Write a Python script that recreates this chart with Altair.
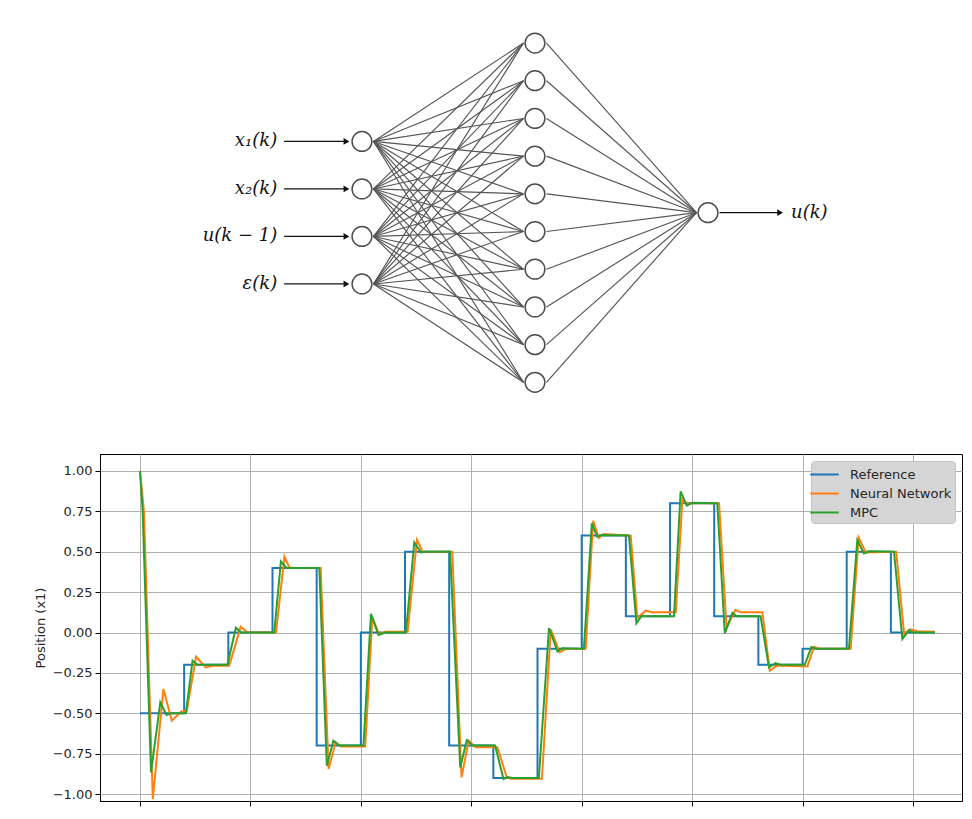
import altair as alt
import pandas as pd

# ---------------- Network diagram data ----------------
layer_x = [0, 1, 2]                      # input, hidden, output layer positions
input_y = [-1.89, -0.63, 0.63, 1.89]
hidden_y = [-4.5, -3.5, -2.5, -1.5, -0.5, 0.5, 1.5, 2.5, 3.5, 4.5]
output_y = [0.0]
input_labels = ["x\u2081(k)", "x\u2082(k)", "u(k \u2212 1)", "\u03b5(k)"]
output_label = "u(k)"
in_arrow_start = -0.45
in_label_x = -0.49
out_arrow_end = 2.44
out_label_x = 2.48

# ---------------- Line chart data ----------------
series_names = ["Reference", "Neural Network", "MPC"]
series_colors = ["#1f77b4", "#ff7f0e", "#2ca02c"]

ref_t = [0, 10, 20, 30, 40, 50, 60, 70, 80, 90, 100, 110, 120, 130, 140, 150, 160, 170, 180]
ref_v = [-0.5, -0.2, 0.0, 0.4, -0.7, 0.0, 0.5, -0.7, -0.9, -0.1, 0.6, 0.1, 0.8, 0.1, -0.2, -0.1, 0.5, 0.0, 0.0]

nn_t = [0, 0.9, 2.9, 5.3, 7.2, 9.3, 10.6, 12.7, 14.9, 16.8, 20.2, 22.8, 24.4, 30.8, 32.7, 33.8, 35.0,
        40.9, 42.7, 44.3, 45.5, 51.0, 52.6, 54.1, 55.5, 60.6, 62.7, 64.0, 70.7, 72.8, 74.4, 76.0,
        80.9, 83.0, 83.9, 91.0, 93.0, 95.0, 96.4, 100.9, 102.6, 103.9, 104.9, 111.1, 112.6, 114.5,
        116.0, 121.3, 122.8, 123.9, 125.0, 131.1, 132.8, 134.8, 136.0, 140.9, 142.6, 144.2, 151.1,
        152.6, 153.7, 160.9, 162.7, 164.3, 171.2, 173.0, 174.4, 176.0, 180.0]
nn_v = [1.0, 0.75, -1.031, -0.35, -0.546, -0.49, -0.485, -0.15, -0.216, -0.205, -0.205, 0.036, 0.0,
        0.0, 0.47, 0.403, 0.4, 0.4, -0.845, -0.68, -0.705, -0.705, 0.093, -0.01, 0.005, 0.005, 0.573,
        0.5, 0.5, -0.897, -0.67, -0.71, -0.71, -0.893, -0.905, -0.905, 0.02, -0.123, -0.102, -0.1,
        0.692, 0.585, 0.61, 0.6, 0.09, 0.135, 0.125, 0.125, 0.827, 0.796, 0.8, 0.8, 0.03, 0.141, 0.125,
        0.125, -0.237, -0.205, -0.21, -0.088, -0.1, -0.1, 0.589, 0.496, 0.5, -0.01, 0.02, 0.008, 0.005]

mpc_t = [0, 0.6, 2.5, 4.6, 6.0, 7.0, 10.4, 11.9, 13.0, 19.8, 21.7, 22.9, 30.4, 31.9, 33.2, 40.6, 42.3,
         43.8, 45.1, 50.6, 52.3, 54.0, 55.6, 60.2, 62.1, 63.6, 64.5, 70.2, 72.5, 74.0, 75.3, 80.4, 82.3,
         83.2, 84.5, 90.3, 92.6, 94.5, 95.6, 100.5, 102.3, 103.5, 104.5, 110.7, 112.4, 113.6, 114.5,
         120.9, 122.4, 123.8, 125.0, 130.7, 132.4, 134.1, 135.2, 140.5, 142.4, 143.9, 145.0, 150.5,
         152.0, 153.0, 160.5, 162.4, 163.9, 165.0, 170.7, 172.6, 174.1, 175.0, 180.0]
mpc_v = [1.0, 0.755, -0.866, -0.432, -0.51, -0.5, -0.5, -0.174, -0.2, -0.2, 0.03, 0.0, 0.0, 0.44, 0.40,
         0.40, -0.825, -0.67, -0.70, -0.70, 0.115, -0.015, 0.0, 0.0, 0.558, 0.496, 0.5, 0.5, -0.835,
         -0.666, -0.70, -0.70, -0.907, -0.895, -0.9, -0.9, 0.028, -0.117, -0.097, -0.1, 0.676, 0.593,
         0.603, 0.6, 0.057, 0.104, 0.1, 0.1, 0.874, 0.785, 0.803, 0.8, -0.005, 0.12, 0.1, 0.1, -0.216,
         -0.19, -0.2, -0.2, -0.09, -0.1, -0.1, 0.573, 0.49, 0.503, 0.5, -0.04, 0.015, 0.0, 0.0]

y_ticks = [-1.0, -0.75, -0.5, -0.25, 0.0, 0.25, 0.5, 0.75, 1.0]
x_ticks = [0, 25, 50, 75, 100, 125, 150, 175]

# ---------------- Diagram ----------------
NODE_R = 11.5
dx = alt.Scale(domain=[-1.514, 3.468], nice=False, zero=False)
dy = alt.Scale(domain=[-5.403, 5.207], reverse=True, nice=False, zero=False)

edge_rows = [{"x": layer_x[0], "y": a, "x2": layer_x[1], "y2": b} for a in input_y for b in hidden_y]
edge_rows += [{"x": layer_x[1], "y": b, "x2": layer_x[2], "y2": o} for b in hidden_y for o in output_y]
edges_df = pd.DataFrame(edge_rows)

node_rows = [{"x": layer_x[0], "y": v} for v in input_y]
node_rows += [{"x": layer_x[1], "y": v} for v in hidden_y]
node_rows += [{"x": layer_x[2], "y": v} for v in output_y]
nodes_df = pd.DataFrame(node_rows)

in_df = pd.DataFrame({"xs": [in_arrow_start] * len(input_y), "xe": [layer_x[0]] * len(input_y),
                      "xl": [in_label_x] * len(input_y), "y": input_y, "label": input_labels})
out_df = pd.DataFrame({"xs": [layer_x[2]], "xe": [out_arrow_end], "xl": [out_label_x],
                       "y": output_y, "label": [output_label]})

X = lambda f: alt.X(f, type="quantitative", scale=dx, axis=None)
Y = lambda f: alt.Y(f, type="quantitative", scale=dy, axis=None)

edges = alt.Chart(edges_df).mark_rule(color="#555555", strokeWidth=1.15, xOffset=NODE_R, x2Offset=-NODE_R).encode(
    x=X("x"), y=Y("y"), x2="x2:Q", y2="y2:Q")
nodes = alt.Chart(nodes_df).mark_point(shape="circle", size=390, filled=True, fill="white", fillOpacity=1,
                                        stroke="#4d4d4d", strokeWidth=1.5, opacity=1).encode(x=X("x"), y=Y("y"))
in_arrows = alt.Chart(in_df).mark_rule(color="#111111", strokeWidth=1.3, x2Offset=-NODE_R - 6).encode(
    x=X("xs"), x2="xe:Q", y=Y("y"))
in_heads = alt.Chart(in_df).mark_point(shape="triangle-right", size=45, filled=True, color="#111111",
                                        opacity=1, xOffset=-NODE_R - 4).encode(x=X("xe"), y=Y("y"))
in_text = alt.Chart(in_df).mark_text(align="right", baseline="middle", font="DejaVu Serif", fontStyle="italic",
                                     fontSize=18, color="#111111").encode(x=X("xl"), y=Y("y"), text="label:N")
out_arrow = alt.Chart(out_df).mark_rule(color="#111111", strokeWidth=1.3, xOffset=NODE_R, x2Offset=-6).encode(
    x=X("xs"), x2="xe:Q", y=Y("y"))
out_head = alt.Chart(out_df).mark_point(shape="triangle-right", size=45, filled=True, color="#111111",
                                         opacity=1, xOffset=-4).encode(x=X("xe"), y=Y("y"))
out_text = alt.Chart(out_df).mark_text(align="left", baseline="middle", font="DejaVu Serif", fontStyle="italic",
                                       fontSize=18, color="#111111").encode(x=X("xl"), y=Y("y"), text="label:N")

diagram = alt.layer(edges, in_arrows, in_heads, out_arrow, out_head, nodes, in_text, out_text).properties(
    width=862, height=400)

# ---------------- Line chart ----------------
ref_df = pd.DataFrame({"t": ref_t, "v": ref_v, "series": "Reference"})
nn_df = pd.DataFrame({"t": nn_t, "v": nn_v, "series": "Neural Network"})
mpc_df = pd.DataFrame({"t": mpc_t, "v": mpc_v, "series": "MPC"})

xsc = alt.Scale(domain=[-9.05, 186.1], nice=False, zero=False)
ysc = alt.Scale(domain=[-1.043, 1.105], nice=False, zero=False)
xaxis = alt.Axis(values=x_ticks, labels=False, title=None, grid=True, gridColor="#b0b0b0", gridWidth=1,
                 tickColor="#000000", tickSize=5, domainColor="#000000")
yaxis = alt.Axis(values=y_ticks, format=".2f", title="Position (x1)", grid=True, gridColor="#b0b0b0",
                 gridWidth=1, tickColor="#000000", tickSize=5, labelPadding=3, domainColor="#000000",
                 labelFont="DejaVu Sans", labelFontSize=13, labelColor="#262626",
                 titleFont="DejaVu Sans", titleFontSize=13, titleFontWeight="normal", titleColor="#262626",
                 titlePadding=5)
legend = alt.Legend(title=None, orient="top-right", offset=7, fillColor="#d5d5d5", strokeColor="#c4c4c4",
                    cornerRadius=3, padding=3, labelFont="DejaVu Sans", labelFontSize=13, labelColor="#262626",
                    symbolType="M-1.5,0L1.5,0", symbolStrokeWidth=2, symbolSize=361, labelOffset=15,
                    rowPadding=1)
color = alt.Color("series:N", scale=alt.Scale(domain=series_names, range=series_colors), legend=legend)

ref_line = alt.Chart(ref_df).mark_line(interpolate="step-after", strokeWidth=2, clip=True).encode(
    x=alt.X("t:Q", scale=xsc, axis=xaxis), y=alt.Y("v:Q", scale=ysc, axis=yaxis), color=color)
nn_line = alt.Chart(nn_df).mark_line(strokeWidth=2, clip=True).encode(
    x=alt.X("t:Q", scale=xsc, axis=xaxis), y=alt.Y("v:Q", scale=ysc, axis=yaxis), color=color)
mpc_line = alt.Chart(mpc_df).mark_line(strokeWidth=2, clip=True).encode(
    x=alt.X("t:Q", scale=xsc, axis=xaxis), y=alt.Y("v:Q", scale=ysc, axis=yaxis), color=color)

lines = alt.layer(ref_line, nn_line, mpc_line).properties(
    width=862, height=347, view=alt.ViewBackground(stroke="#000000", strokeWidth=1))

chart = alt.vconcat(diagram, lines, spacing=43).resolve_scale(
    color="independent", x="independent", y="independent"
).resolve_legend(color="independent").properties(
    padding={"left": 25, "top": 0, "right": 0, "bottom": 0}
).configure_view(stroke="transparent")

chart.save("out.html", embed_options={"renderer": "svg", "actions": False})
